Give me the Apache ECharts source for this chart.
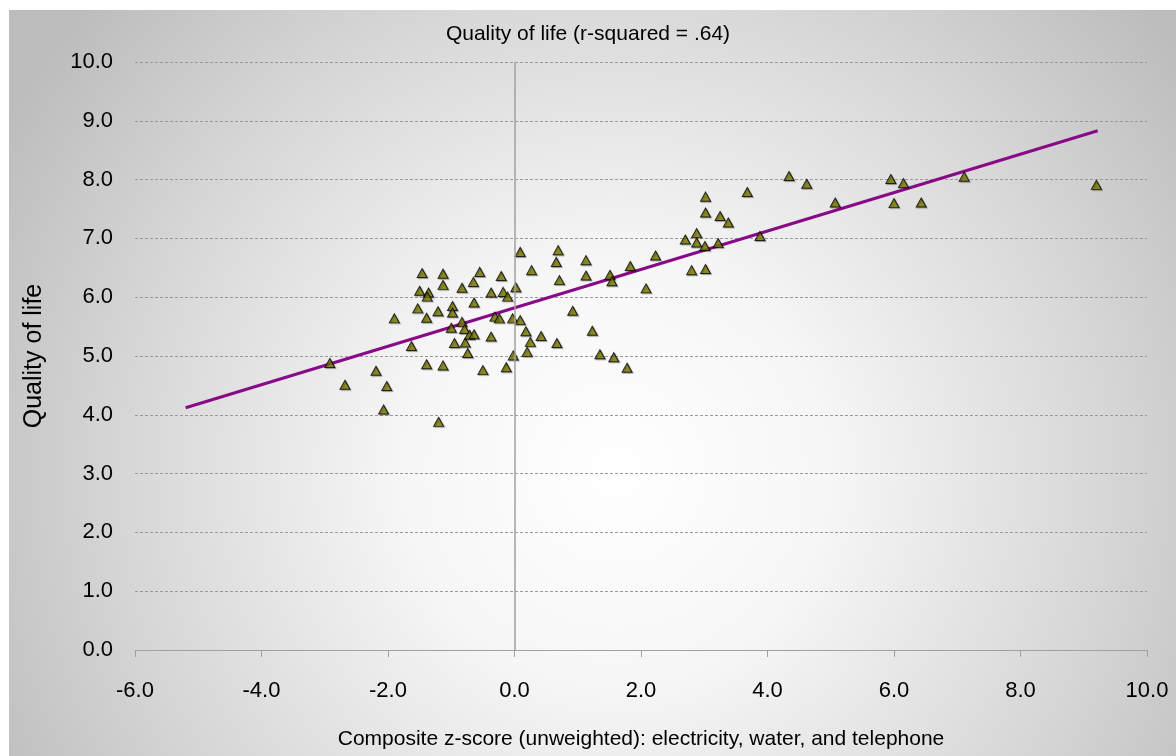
<!DOCTYPE html>
<html>
<head>
<meta charset="utf-8">
<script src="https://cdn.jsdelivr.net/npm/echarts@6/dist/echarts.min.js"></script>
<style>
html,body{margin:0;padding:0;background:#ffffff;}
#chart{width:1176px;height:756px;}
</style>
</head>
<body>
<div id="chart"></div>
<script>
// ---- data ----
var titleText = 'Quality of life (r-squared = .64)';
var xName = 'Composite z-score (unweighted): electricity, water, and telephone';
var yName = 'Quality of life';

var zScores = [
 -2.92,-2.68,-2.19,-2.02,-2.07,-1.90,-1.63,-1.53,-1.50,-1.46,
 -1.39,-1.36,-1.38,-1.39,-1.21,-1.20,-1.13,-1.13,-1.13,-0.98,
 -0.98,-1.00,-0.95,-0.83,-0.83,-0.79,-0.78,-0.74,-0.71,-0.65,
 -0.64,-0.64,-0.55,-0.50,-0.37,-0.37,-0.31,-0.24,-0.21,-0.18,
 -0.11,-0.13,-0.03,-0.02,0.02,0.09,0.09,0.18,0.20,0.25,
 0.27,0.42,0.66,0.67,0.69,0.71,0.92,1.13,1.13,1.23,
 1.35,1.51,1.54,1.57,1.78,1.83,2.08,2.23,2.70,2.80,
 2.88,2.88,3.01,3.02,3.02,3.02,3.22,3.25,3.38,3.68,
 3.88,4.34,4.62,5.07,5.95,6.00,6.15,6.43,7.11,9.20
];
var qualityOfLife = [
 4.88,4.51,4.75,4.49,4.09,5.64,5.17,5.81,6.11,6.41,
 5.65,6.08,6.01,4.86,5.76,3.88,6.40,6.21,4.84,5.85,
 5.74,5.48,5.22,6.16,5.58,5.46,5.23,5.05,5.36,6.26,
 5.91,5.37,6.43,4.76,6.08,5.33,5.67,5.64,6.36,6.09,
 6.01,4.81,5.64,5.01,6.17,6.77,5.61,5.42,5.07,5.24,
 6.46,5.34,6.60,5.22,6.80,6.29,5.77,6.63,6.37,5.43,
 5.03,6.38,6.27,4.98,4.80,6.53,6.15,6.71,6.98,6.46,
 7.09,6.93,6.87,6.48,7.71,7.44,6.92,7.38,7.27,7.79,
 7.04,8.06,7.93,7.61,8.01,7.60,7.94,7.61,8.05,7.91
];
var trendX = [-5.20, 9.22];
var trendY = [4.12, 8.83];

var xTicks = {min: -6, max: 10, step: 2};
var yTicks = {min: 0, max: 10, step: 1};

// ---- build ----
var points = zScores.map(function (x, i) { return [x, qualityOfLife[i]]; });
var trend = trendX.map(function (x, i) { return [x, trendY[i]]; });

var FONT = '"Liberation Sans", Arial, sans-serif';
var chart = echarts.init(document.getElementById('chart'), null, {renderer: 'canvas'});

chart.setOption({
  animation: false,
  backgroundColor: '#ffffff',
  graphic: [{
    type: 'rect',
    z: -100,
    silent: true,
    shape: {x: 9, y: 10, width: 1167, height: 746},
    style: {
      fill: new echarts.graphic.RadialGradient(0.52, 0.62, 0.95, [
        {offset: 0, color: '#ffffff'},
        {offset: 0.3, color: '#f6f6f6'},
        {offset: 0.7, color: '#d6d6d6'},
        {offset: 1, color: '#bcbcbc'}
      ])
    }
  }],
  title: {
    text: titleText,
    left: 'center',
    top: 19,
    textStyle: {fontFamily: FONT, fontSize: 21, fontWeight: 'normal', color: '#000'}
  },
  grid: {left: 135, right: 29, top: 62, bottom: 106, containLabel: false},
  xAxis: {
    type: 'value',
    min: xTicks.min, max: xTicks.max, interval: xTicks.step,
    name: xName,
    nameLocation: 'middle',
    nameGap: 79,
    nameTextStyle: {fontFamily: FONT, fontSize: 21, color: '#000'},
    axisLine: {show: true, onZero: false, lineStyle: {color: '#a0a0a0', width: 1}},
    axisTick: {show: true, inside: false, length: 7, lineStyle: {color: '#a0a0a0'}},
    axisLabel: {
      fontFamily: FONT, fontSize: 22, color: '#000', margin: 30,
      formatter: function (v) { return v.toFixed(1); }
    },
    splitLine: {show: false}
  },
  yAxis: {
    type: 'value',
    min: yTicks.min, max: yTicks.max, interval: yTicks.step,
    name: yName,
    nameLocation: 'middle',
    nameGap: 88,
    nameRotate: 90,
    nameTextStyle: {fontFamily: FONT, fontSize: 25, color: '#000'},
    axisLine: {show: false, onZero: false},
    axisTick: {show: false},
    axisLabel: {
      fontFamily: FONT, fontSize: 22, color: '#000', margin: 22,
      formatter: function (v) { return v.toFixed(1); }
    },
    splitLine: {show: true, lineStyle: {color: '#9a9a9a', width: 1, type: [3, 2]}}
  },
  series: [
    {
      type: 'line',
      name: 'trend',
      z: 2,
      data: trend,
      showSymbol: false,
      symbol: 'none',
      silent: true,
      lineStyle: {color: '#880a88', width: 3},
      markLine: {
        silent: true,
        symbol: 'none',
        label: {show: false},
        lineStyle: {color: '#a0a0a0', width: 1.5, type: 'solid'},
        data: [{xAxis: 0}]
      }
    },
    {
      type: 'scatter',
      name: 'countries',
      z: 3,
      data: points,
      symbol: 'triangle',
      symbolSize: [10, 9],
      itemStyle: {
        color: '#808000',
        borderColor: '#000000',
        borderWidth: 1,
        shadowColor: 'rgba(0,0,0,0.35)',
        shadowBlur: 1,
        shadowOffsetX: 1,
        shadowOffsetY: 1
      }
    }
  ]
});
</script>
</body>
</html>
